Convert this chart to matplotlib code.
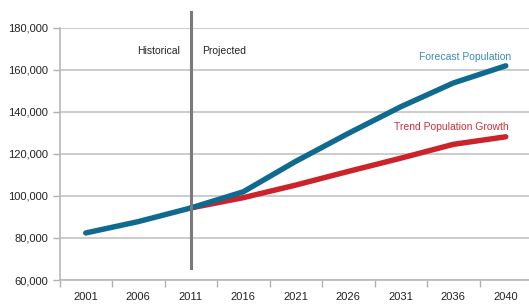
import matplotlib.pyplot as plt
from matplotlib.ticker import FuncFormatter

years = ['2001', '2006', '2011', '2016', '2021', '2026', '2031', '2036', '2040']
forecast = [82400, 87800, 94300, 102000, 116500, 129800, 142500, 153800, 162000]
trend = [None, None, 94300, 99200, 105200, 111700, 118000, 124600, 128200]

plt.rcParams['font.family'] = ['Liberation Sans', 'DejaVu Sans']

fig = plt.figure(figsize=(5.29, 3.04), dpi=100)
ax = fig.add_axes([59.5 / 529, 1 - 280 / 304, (532 - 59.5) / 529, 252 / 304])

x = list(range(len(years)))
tx = [i for i, v in zip(x, trend) if v is not None]
ty = [v for v in trend if v is not None]

ax.plot(tx, ty, color='#cc2229', lw=3.9, solid_capstyle='round', zorder=3)
ax.plot(x, forecast, color='#0f6a90', lw=3.9, solid_capstyle='round', zorder=4)

ax.set_ylim(60000, 180000)
ax.set_xlim(-0.5, len(years) - 0.5)
ax.set_yticks(range(60000, 180001, 20000))
ax.yaxis.set_major_formatter(FuncFormatter(lambda v, p: f'{int(v):,}'))
ax.set_xticks(x)
ax.set_xticklabels(years)
ax.set_xticks([i - 0.5 for i in range(len(years) + 1)], minor=True)
ax.tick_params(axis='x', which='major', length=0, pad=9, labelsize=8, colors='#222222')
ax.tick_params(axis='x', which='minor', length=5, color='#b0b0b0', width=1)
ax.tick_params(axis='y', length=5, width=1, pad=3, labelsize=8, colors='#222222')
ax.tick_params(axis='y', color='#b0b0b0')

ax.grid(axis='y', color='#c4c4c4', lw=1.2)
ax.set_axisbelow(True)
for s in ['top', 'right']:
    ax.spines[s].set_visible(False)
for s in ['left', 'bottom']:
    ax.spines[s].set_color('#b8b8b8')
    ax.spines[s].set_linewidth(1.2)

# divider between historical and projected
ax.plot([2, 2], [65700, 187500], color='#7a7a7a', lw=2.2, clip_on=False, zorder=5)
ax.text(1.8, 169000, 'Historical', ha='right', va='center', fontsize=7.5, color='#222222')
ax.text(2.22, 169000, 'Projected', ha='left', va='center', fontsize=7.5, color='#222222')

ax.text(8.1, 166200, 'Forecast Population', ha='right', va='center', fontsize=7.5, color='#3a8bb5')
ax.text(8.05, 132900, 'Trend Population Growth', ha='right', va='center', fontsize=7.5, color='#d0303a')

fig.savefig('out.png', dpi=100)
